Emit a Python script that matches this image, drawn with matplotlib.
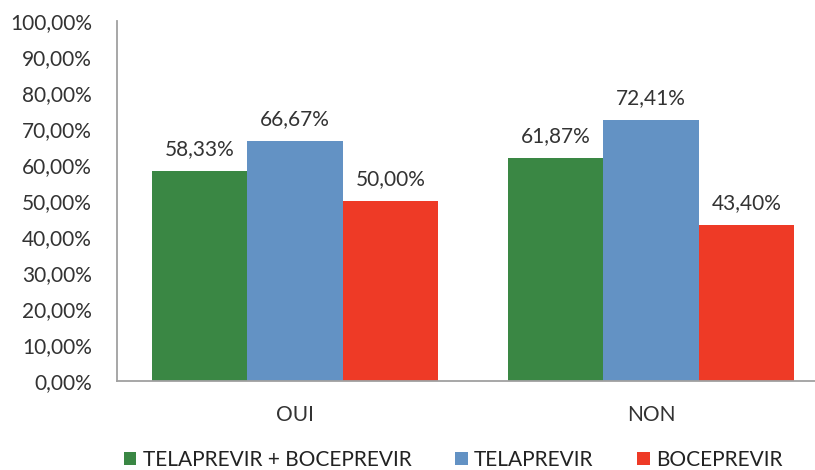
import numpy as np
import matplotlib.pyplot as plt
from matplotlib.ticker import FuncFormatter

plt.rcParams['font.family'] = ['Lato', 'DejaVu Sans']

categories = ['OUI', 'NON']
series_names = ['TELAPREVIR + BOCEPREVIR', 'TELAPREVIR', 'BOCEPREVIR']
tela_boce = [58.33, 61.87]
tela = [66.67, 72.41]
boce = [50.00, 43.40]
colors = ['#3a8744', '#6392c4', '#ee3a26']

fig = plt.figure(figsize=(8.15, 4.70), dpi=100)
# the original chart is cropped on the right, so the axes run past the edge
ax = fig.add_axes([0.1436, 0.189, 0.8736, 0.766])

x = np.arange(len(categories))
w = 0.268
for i, (vals, name, col) in enumerate(zip([tela_boce, tela, boce], series_names, colors)):
    bars = ax.bar(x + (i - 1) * w, vals, w, color=col, label=name)
    for b, v in zip(bars, vals):
        ax.text(b.get_x() + b.get_width() / 2, v + 3.4, f'{v:.2f}%'.replace('.', ','),
                ha='center', va='bottom', fontsize=15, color='#333333')

ax.set_xlim(-0.5, 1.5)
ax.set_ylim(0, 100)
ax.set_yticks(np.arange(0, 101, 10))
ax.yaxis.set_major_formatter(FuncFormatter(lambda v, p: f'{v:.2f}%'.replace('.', ',')))
ax.set_xticks(x)
ax.set_xticklabels(categories)
ax.tick_params(axis='both', length=0, labelsize=15, colors='#333333')
ax.tick_params(axis='x', pad=17)
ax.tick_params(axis='y', pad=18)
for s in ['top', 'right']:
    ax.spines[s].set_visible(False)
for s in ['left', 'bottom']:
    ax.spines[s].set_color('#a0a0a0')
    ax.spines[s].set_linewidth(1.3)

leg = fig.legend(loc='center left', bbox_to_anchor=(0.152, 0.021), ncol=3, frameon=False,
                 fontsize=15, handlelength=0.6, handleheight=0.6, handletextpad=0.3,
                 columnspacing=2.1, borderaxespad=0, borderpad=0)
for t in leg.get_texts():
    t.set_color('#222222')

fig.savefig('out.png', dpi=100)
